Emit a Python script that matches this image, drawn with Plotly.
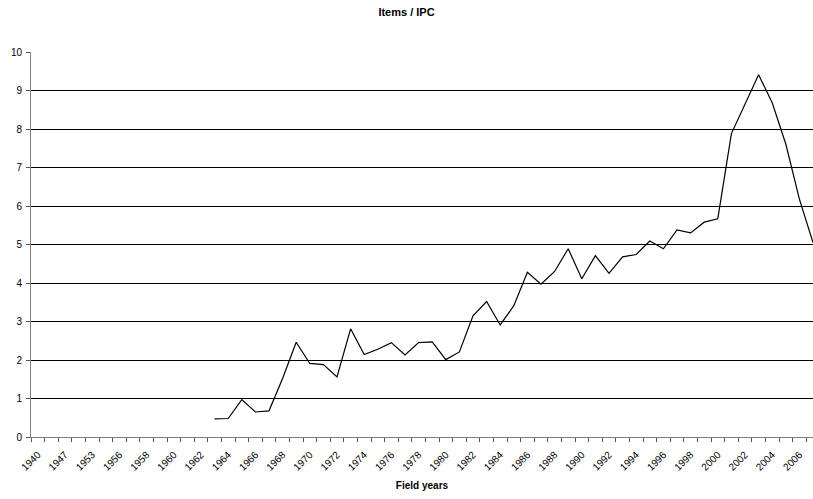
import plotly.graph_objects as go

# Field years (category axis) and Items / IPC values
years = ["1940", "1946", "1947", "1950", "1953", "1955", "1956", "1957", "1958",
         "1959", "1960", "1961", "1962"] + [str(y) for y in range(1963, 2008)]

items_per_ipc = [None] * 13 + [
    0.47, 0.48, 0.97, 0.65, 0.68, 1.52, 2.46, 1.91, 1.88, 1.56,   # 1963-1972
    2.81, 2.14, 2.28, 2.45, 2.13, 2.45, 2.47, 2.01, 2.21, 3.15,   # 1973-1982
    3.52, 2.91, 3.41, 4.28, 3.97, 4.30, 4.89, 4.11, 4.71, 4.25,   # 1983-1992
    4.68, 4.74, 5.09, 4.89, 5.38, 5.30, 5.58, 5.67, 7.88, 8.63,   # 1993-2002
    9.41, 8.68, 7.61, 6.18, 5.05,                                 # 2003-2007
]

label_years = years[:-1:2]
y_ticks = list(range(0, 11))

FONT = "Liberation Sans, Arial, sans-serif"
n = len(years)
x_range = [-0.5, n - 1]

fig = go.Figure()
fig.add_trace(go.Scatter(
    x=years, y=items_per_ipc, mode="lines",
    line=dict(color="#000000", width=1.2),
    connectgaps=False, showlegend=False, hoverinfo="x+y",
))
# helper trace so the tick-mark axis at category boundaries is rendered
fig.add_trace(go.Scatter(
    x=[x_range[0]], y=[0], xaxis="x2", mode="markers",
    marker=dict(opacity=0), showlegend=False, hoverinfo="skip",
))

fig.update_layout(
    width=813, height=499,
    margin=dict(l=31, r=0, t=52, b=62),
    paper_bgcolor="white", plot_bgcolor="white",
    font=dict(family=FONT, size=10, color="#000000"),
    title=dict(text="<b>Items / IPC</b>", x=0.5, xanchor="center",
               y=1 - 12 / 499, yanchor="middle",
               font=dict(family=FONT, size=11, color="#000000")),
    xaxis=dict(
        type="category", categoryorder="array", categoryarray=years,
        range=x_range, tickmode="array", tickvals=label_years,
        ticktext=label_years, tickangle=-45, ticks="", showgrid=False,
        ticklabelstandoff=7,
        showline=True, linecolor="#808080", linewidth=1,
        tickfont=dict(family=FONT, size=10, color="#000000"),
        title=dict(text="<b>Field years</b>", standoff=10,
                   font=dict(family=FONT, size=10, color="#000000")),
        zeroline=False,
    ),
    xaxis2=dict(
        overlaying="x", anchor="y", side="bottom", range=x_range,
        tickmode="linear", tick0=-0.5, dtick=1, ticks="outside",
        ticklen=4, tickcolor="#555555", tickwidth=1,
        showticklabels=False, showgrid=False, showline=False, zeroline=False,
    ),
    yaxis=dict(
        range=[0, 10], tickmode="array", tickvals=y_ticks,
        ticks="outside", ticklen=4, tickcolor="#555555",
        ticklabelstandoff=2,
        showline=True, linecolor="#808080", linewidth=1,
        showgrid=True, gridcolor="#000000", gridwidth=1,
        zeroline=False,
        tickfont=dict(family=FONT, size=10, color="#000000"),
    ),
)

fig.write_html("out.html")
